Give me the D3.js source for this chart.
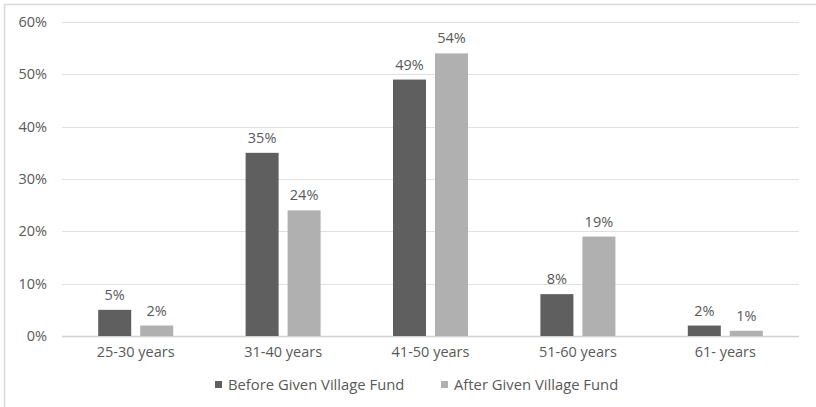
<!DOCTYPE html>
<html><head><meta charset="utf-8">
<script src="https://cdn.jsdelivr.net/npm/d3@7"></script>
<style>body{margin:0;background:#fff}svg{display:block}text{font-family:"Open Sans",sans-serif;fill:#595959}</style>
</head><body>
<script>
const categories = ["25-30 years","31-40 years","41-50 years","51-60 years","61- years"];
const seriesNames = ["Before Given Village Fund","After Given Village Fund"];
const before = [5,35,49,8,2];
const after = [2,24,54,19,1];
const yTicks = [0,10,20,30,40,50,60];
const colors = ["#5f5f5f","#b0b0b0"];

(function(){
const W=816,H=407;
const svg=d3.select("body").append("svg").attr("width",W).attr("height",H);
svg.append("rect").attr("x",4.5).attr("y",4.5).attr("width",W+10).attr("height",H+10)
  .attr("fill","none").attr("stroke","#d9d9d9").attr("stroke-width",1.5);

const mLeft=62,mRight=799,mTop=22,mBottom=336;
const x=d3.scaleBand().domain(categories).range([mLeft,mRight]);
const xs=d3.scaleBand().domain([0,1]).range([0,75]).paddingInner(0.214);
const y=d3.scaleLinear().domain([0,60]).range([mBottom,mTop]);

const grid=svg.append("g");
grid.selectAll("line").data(yTicks).join("line")
  .attr("x1",mLeft).attr("x2",mRight).attr("y1",d=>Math.round(y(d))+0.5).attr("y2",d=>Math.round(y(d))+0.5)
  .attr("stroke",d=>d===0?"#d0d0d0":"#e0e0e0").attr("stroke-width",d=>d===0?1.5:1.2);

const yAxis=d3.axisLeft(y).tickValues(yTicks).tickFormat(d=>d+"%").tickSize(0).tickPadding(15);
const ya=svg.append("g").attr("transform",`translate(${mLeft},0)`).call(yAxis);
ya.select(".domain").remove();
ya.selectAll("text").attr("font-size",14.5).attr("fill","#595959").attr("font-family","Open Sans");

const xAxis=d3.axisBottom(x).tickSize(0).tickPadding(11);
const xa=svg.append("g").attr("transform",`translate(0,${mBottom})`).call(xAxis);
xa.select(".domain").remove();
xa.selectAll("text").attr("font-size",14.5).attr("fill","#595959").attr("font-family","Open Sans");

const data=categories.map((c,i)=>({c,vals:[before[i],after[i]]}));
const groups=svg.append("g").selectAll("g").data(data).join("g")
  .attr("transform",d=>`translate(${x(d.c)+(x.bandwidth()-75)/2},0)`);
groups.selectAll("rect").data(d=>d.vals.map((v,k)=>({v,k}))).join("rect")
  .attr("x",d=>xs(d.k)).attr("width",xs.bandwidth())
  .attr("y",d=>y(d.v)).attr("height",d=>y(0)-y(d.v)).attr("fill",d=>colors[d.k]);
groups.selectAll("text").data(d=>d.vals.map((v,k)=>({v,k}))).join("text")
  .attr("x",d=>xs(d.k)+xs.bandwidth()/2).attr("y",d=>y(d.v)-10)
  .attr("text-anchor","middle").attr("font-size",14.5).text(d=>d.v+"%");

const legendX=[215,441];
const lg=svg.append("g").selectAll("g").data(seriesNames).join("g")
  .attr("transform",(d,i)=>`translate(${legendX[i]},0)`);
lg.append("rect").attr("x",0).attr("y",381).attr("width",7).attr("height",7).attr("fill",(d,i)=>colors[i]);
lg.append("text").attr("x",13).attr("y",390).attr("font-size",14.8).text(d=>d);
})();
</script>
</body></html>
